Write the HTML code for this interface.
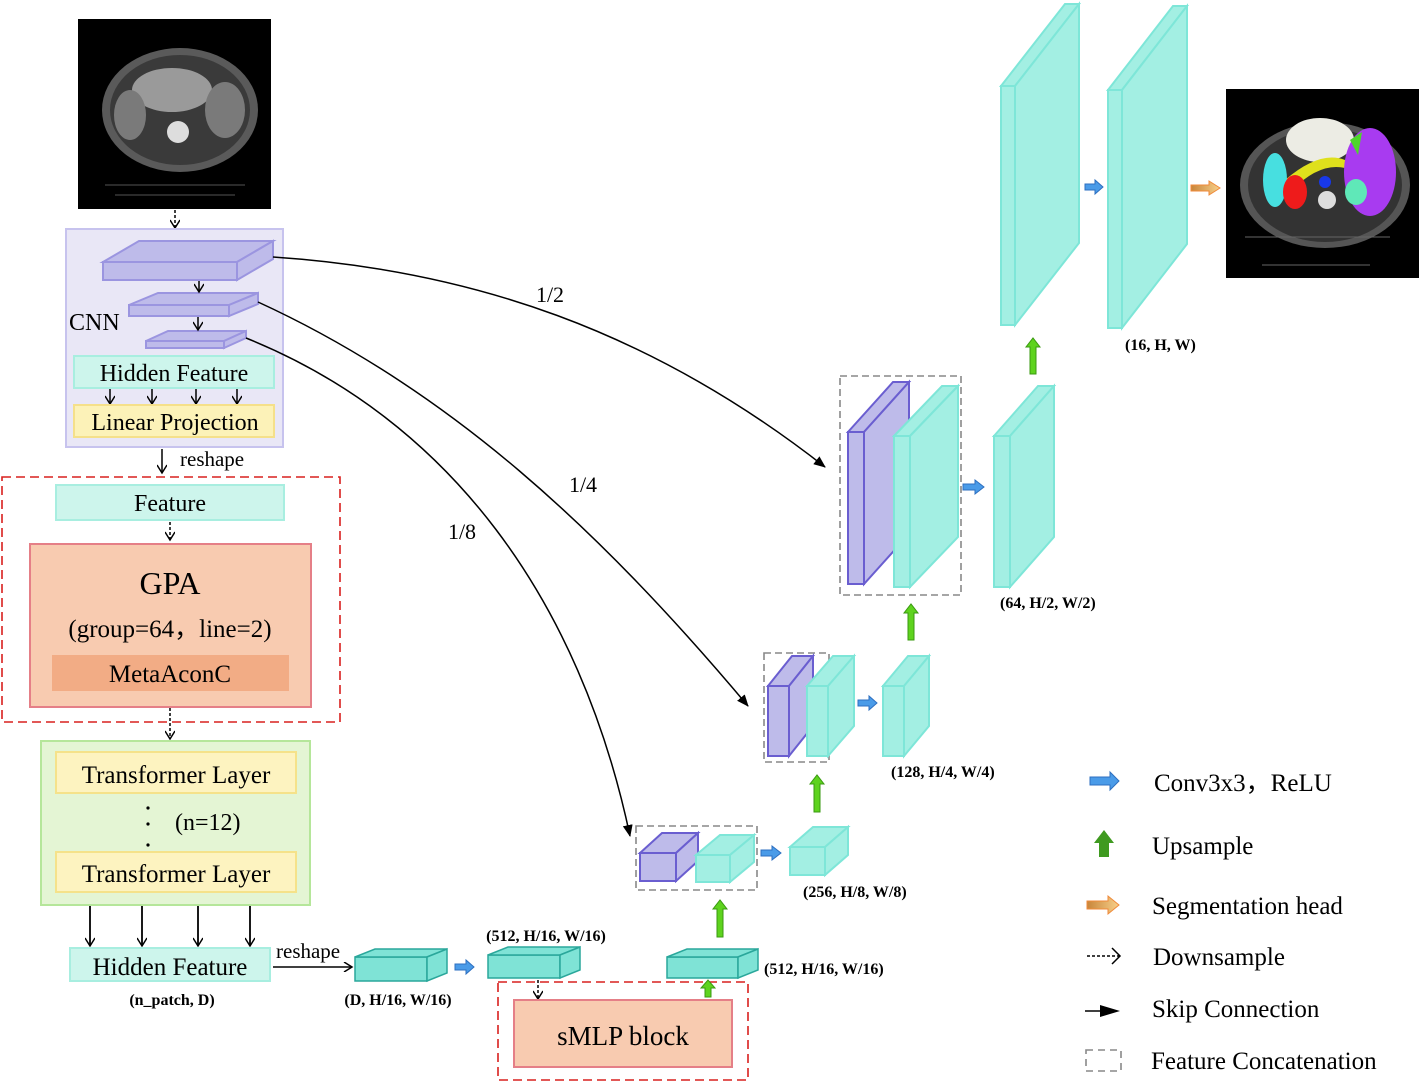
<!DOCTYPE html>
<html><head><meta charset="utf-8"><style>
html,body{margin:0;padding:0;background:#fff}
svg{display:block}
text{font-family:"Liberation Serif",serif;fill:#000}
.b{font-weight:bold;font-size:16px}
</style></head><body>
<svg width="1419" height="1082" viewBox="0 0 1419 1082" xmlns="http://www.w3.org/2000/svg">
<defs>
<marker id="ah" markerWidth="12" markerHeight="10" refX="11" refY="5" orient="auto" markerUnits="userSpaceOnUse"><path d="M0,0 L12,5 L0,10 Z" fill="#000"/></marker>
<marker id="oa" markerWidth="14" markerHeight="10" refX="9" refY="5" orient="auto" markerUnits="userSpaceOnUse"><path d="M1,0 L9,5 L1,10" stroke="#000" stroke-width="1.5" fill="none"/></marker>
<linearGradient id="og" x1="0" x2="1"><stop offset="0" stop-color="#c8853a"/><stop offset="1" stop-color="#f7d08a"/></linearGradient>
</defs>

<!-- CT input -->
<rect x="78" y="19" width="193" height="190" fill="#000"/>
<ellipse cx="180" cy="110" rx="78" ry="62" fill="#5a5a5a"/>
<ellipse cx="180" cy="110" rx="70" ry="55" fill="#3a3a3a"/>
<ellipse cx="172" cy="90" rx="40" ry="22" fill="#9a9a9a"/>
<ellipse cx="130" cy="115" rx="16" ry="25" fill="#7a7a7a"/>
<ellipse cx="225" cy="110" rx="20" ry="28" fill="#7a7a7a"/>
<circle cx="178" cy="132" r="11" fill="#ddd"/>
<path d="M105,185 L245,185 M115,195 L235,195" stroke="#555"/>

<!-- CT output -->
<rect x="1226" y="89" width="193" height="189" fill="#000"/>
<ellipse cx="1325" cy="185" rx="85" ry="63" fill="#555"/>
<ellipse cx="1325" cy="185" rx="77" ry="57" fill="#333"/>
<ellipse cx="1320" cy="140" rx="34" ry="22" fill="#ecece4"/>
<path d="M1285,180 Q1320,150 1345,160 L1345,168 Q1320,162 1292,190 Z" fill="#dfe01c"/>
<ellipse cx="1275" cy="180" rx="12" ry="27" fill="#47dfe0"/>
<ellipse cx="1295" cy="192" rx="12" ry="17" fill="#ee1b1b"/>
<ellipse cx="1370" cy="172" rx="26" ry="44" fill="#a83bf0"/>
<ellipse cx="1356" cy="192" rx="11" ry="13" fill="#5fe8b8"/>
<circle cx="1325" cy="182" r="6" fill="#1838e8"/>
<circle cx="1327" cy="200" r="9" fill="#ddd"/>
<path d="M1350,140 L1362,132 L1358,155 Z" fill="#4ed62a"/>
<path d="M1245,237 L1390,237 M1262,265 L1370,265" stroke="#666"/>

<!-- dotted arrow into CNN -->
<line x1="175" y1="210" x2="175" y2="228" stroke="#000" stroke-width="1.5" stroke-dasharray="3,2" marker-end="url(#oa)"/>

<!-- CNN box -->
<rect x="66" y="229" width="217" height="218" fill="#e9e7f6" stroke="#c7c3ee" stroke-width="2"/>
<g fill="#bebbea" stroke="#9b95e0" stroke-width="2">
<rect x="103" y="262" width="134" height="18"/><polygon points="103,262 139,241 273,241 237,262"/><polygon points="237,262 273,241 273,259 237,280"/>
<rect x="129" y="305" width="100" height="11"/><polygon points="129,305 158,293 258,293 229,305"/><polygon points="229,305 258,293 258,304 229,316"/>
<rect x="146" y="341" width="78" height="7"/><polygon points="146,341 168,331 246,331 224,341"/><polygon points="224,341 246,331 246,338 224,348"/>
</g>
<line x1="199" y1="281" x2="199" y2="292" stroke="#000" stroke-width="1.5" marker-end="url(#oa)"/>
<line x1="198" y1="317" x2="198" y2="330" stroke="#000" stroke-width="1.5" marker-end="url(#oa)"/>
<text x="69" y="330" font-size="24">CNN</text>
<rect x="74" y="356" width="200" height="32" fill="#cdf5ec" stroke="#a8eee0" stroke-width="2"/>
<text x="174" y="381" font-size="24" text-anchor="middle">Hidden Feature</text>
<g stroke="#000" stroke-width="1.5">
<line x1="110" y1="389" x2="110" y2="404" marker-end="url(#oa)"/><line x1="152" y1="389" x2="152" y2="404" marker-end="url(#oa)"/><line x1="196" y1="389" x2="196" y2="404" marker-end="url(#oa)"/><line x1="237" y1="389" x2="237" y2="404" marker-end="url(#oa)"/>
</g>
<rect x="74" y="405" width="200" height="32" fill="#fcf2b8" stroke="#f5e08a" stroke-width="2"/>
<text x="175" y="430" font-size="24" text-anchor="middle">Linear Projection</text>
<line x1="162" y1="449" x2="162" y2="473" stroke="#000" stroke-width="1.5" marker-end="url(#oa)"/>
<text x="180" y="466" font-size="21">reshape</text>

<!-- GPA region -->
<rect x="2" y="477" width="338" height="245" fill="none" stroke="#d9201e" stroke-width="1.6" stroke-dasharray="9,5"/>
<rect x="56" y="485" width="228" height="35" fill="#cdf5ec" stroke="#a8eee0" stroke-width="2"/>
<text x="170" y="511" font-size="24" text-anchor="middle">Feature</text>
<line x1="170" y1="522" x2="170" y2="540" stroke="#000" stroke-width="1.5" stroke-dasharray="3,2" marker-end="url(#oa)"/>
<rect x="30" y="544" width="281" height="163" fill="#f8cbb0" stroke="#e57f87" stroke-width="2"/>
<text x="170" y="594" font-size="32" text-anchor="middle">GPA</text>
<text x="170" y="637" font-size="25" text-anchor="middle">(group=64，line=2)</text>
<rect x="52" y="655" width="237" height="36" fill="#f2ac85"/>
<text x="170" y="682" font-size="25" text-anchor="middle">MetaAconC</text>
<line x1="170" y1="708" x2="170" y2="739" stroke="#000" stroke-width="1.5" stroke-dasharray="3,2" marker-end="url(#oa)"/>

<!-- Transformer -->
<rect x="41" y="741" width="269" height="164" fill="#e4f5d4" stroke="#b5e69a" stroke-width="2"/>
<rect x="56" y="752" width="240" height="41" fill="#fdf3c0" stroke="#f5e28a" stroke-width="2"/>
<text x="176" y="783" font-size="25" text-anchor="middle">Transformer Layer</text>
<circle cx="148" cy="808" r="1.6" fill="#000"/><circle cx="148" cy="824" r="1.6" fill="#000"/><circle cx="148" cy="845" r="1.6" fill="#000"/>
<text x="175" y="830" font-size="24">(n=12)</text>
<rect x="56" y="852" width="240" height="40" fill="#fdf3c0" stroke="#f5e28a" stroke-width="2"/>
<text x="176" y="882" font-size="25" text-anchor="middle">Transformer Layer</text>
<g stroke="#000" stroke-width="1.8">
<line x1="90" y1="906" x2="90" y2="946" marker-end="url(#oa)"/><line x1="142" y1="906" x2="142" y2="946" marker-end="url(#oa)"/><line x1="198" y1="906" x2="198" y2="946" marker-end="url(#oa)"/><line x1="250" y1="906" x2="250" y2="946" marker-end="url(#oa)"/>
</g>
<rect x="70" y="948" width="200" height="33" fill="#cdf5ec" stroke="#a8eee0" stroke-width="2"/>
<text x="170" y="975" font-size="25" text-anchor="middle">Hidden Feature</text>
<text x="172" y="1005" class="b" text-anchor="middle" font-size="15">(n_patch, D)</text>
<line x1="273" y1="967" x2="352" y2="967" stroke="#000" stroke-width="1.5" marker-end="url(#oa)"/>
<text x="276" y="958" font-size="21">reshape</text>

<!-- bottom cubes -->
<g fill="#7fe3d6" stroke="#2aa79b" stroke-width="1.5">
<rect x="355" y="957" width="72" height="24"/><polygon points="355,957 375,949 447,949 427,957"/><polygon points="427,957 447,949 447,973 427,981"/>
<rect x="488" y="955" width="72" height="23"/><polygon points="488,955 508,947 580,947 560,955"/><polygon points="560,955 580,947 580,970 560,978"/>
<rect x="667" y="957" width="71" height="21"/><polygon points="667,957 687,949 758,949 738,957"/><polygon points="738,957 758,949 758,970 738,978"/>
</g>
<text x="398" y="1005" class="b" text-anchor="middle">(D, H/16, W/16)</text>
<text x="546" y="941" class="b" text-anchor="middle">(512, H/16, W/16)</text>
<text x="764" y="974" class="b">(512, H/16, W/16)</text>
<line x1="538" y1="980" x2="538" y2="999" stroke="#000" stroke-width="1.5" stroke-dasharray="3,2" marker-end="url(#oa)"/>
<rect x="498" y="982" width="250" height="98" fill="none" stroke="#d9201e" stroke-width="1.6" stroke-dasharray="9,5"/>
<rect x="514" y="1000" width="218" height="67" fill="#f8cbb0" stroke="#e57f87" stroke-width="2"/>
<text x="623" y="1045" font-size="27" text-anchor="middle">sMLP block</text>

<!-- blue arrows -->
<g fill="#4a9be8" stroke="#2d6fc0" stroke-width="1">
<polygon points="455,964 466,964 466,960 474,967 466,974 466,970 455,970"/>
<polygon points="761,850 772,850 772,846 781,853 772,860 772,856 761,856"/>
<polygon points="858,700 869,700 869,696 877,703 869,710 869,706 858,706"/>
<polygon points="963,484 975,484 975,480 984,487 975,494 975,490 963,490"/>
<polygon points="1085,184 1095,184 1095,180 1103,187 1095,194 1095,190 1085,190"/>
<polygon points="1090,777 1110,777 1110,772 1119,781 1110,790 1110,785 1090,785"/>
</g>
<!-- green up arrows -->
<g fill="#5ed31e" stroke="#3a9a10" stroke-width="1">
<polygon points="705,997 705,988 701,988 708,980 715,988 711,988 711,997"/>
<polygon points="717,937 717,909 713,909 720,900 727,909 723,909 723,937"/>
<polygon points="814,812 814,784 810,784 817,775 824,784 820,784 820,812"/>
<polygon points="908,640 908,613 904,613 911,604 918,613 914,613 914,640"/>
<polygon points="1030,374 1030,347 1026,347 1033,338 1040,347 1036,347 1036,374"/>
</g>
<polygon points="1099,857 1099,843 1094,843 1104,830 1114,843 1109,843 1109,857" fill="#3f9a20"/>
<!-- orange -->
<polygon points="1191,185 1209,185 1209,181 1220,188 1209,195 1209,191 1191,191" fill="url(#og)" stroke="#f08a3a"/>
<polygon points="1087,901 1108,901 1108,896 1119,905 1108,914 1108,909 1087,909" fill="url(#og)" stroke="#f08a3a"/>

<!-- Level 1/8 -->
<rect x="636" y="826" width="121" height="64" fill="none" stroke="#888" stroke-width="1.6" stroke-dasharray="7,4"/>
<g fill="#bebbea" stroke="#6a5ed0" stroke-width="2">
<rect x="640" y="853" width="36" height="28"/><polygon points="640,853 662,833 698,833 676,853"/><polygon points="676,853 698,833 698,861 676,881"/>
</g>
<g fill="#a3efe3" stroke="#7ee6d8" stroke-width="2">
<rect x="696" y="855" width="34" height="27"/><polygon points="696,855 720,835 754,835 730,855"/><polygon points="730,855 754,835 754,862 730,882"/>
<rect x="790" y="847" width="35" height="28"/><polygon points="790,847 813,827 848,827 825,847"/><polygon points="825,847 848,827 848,855 825,875"/>
</g>
<text x="803" y="897" class="b">(256, H/8, W/8)</text>

<!-- Level 1/4 -->
<rect x="764" y="653" width="65" height="109" fill="none" stroke="#888" stroke-width="1.6" stroke-dasharray="7,4"/>
<g fill="#bebbea" stroke="#6a5ed0" stroke-width="2">
<rect x="768" y="686" width="21" height="70"/><polygon points="768,686 792,656 813,656 789,686"/><polygon points="789,686 813,656 813,726 789,756"/>
</g>
<g fill="#a3efe3" stroke="#7ee6d8" stroke-width="2">
<rect x="807" y="686" width="21" height="70"/><polygon points="807,686 833,656 854,656 828,686"/><polygon points="828,686 854,656 854,726 828,756"/>
<rect x="883" y="686" width="21" height="70"/><polygon points="883,686 908,656 929,656 904,686"/><polygon points="904,686 929,656 929,726 904,756"/>
</g>
<text x="891" y="777" class="b">(128, H/4, W/4)</text>

<!-- Level 1/2 -->
<rect x="840" y="376" width="121" height="219" fill="none" stroke="#888" stroke-width="1.6" stroke-dasharray="7,4"/>
<g fill="#bebbea" stroke="#6a5ed0" stroke-width="2">
<rect x="848" y="432" width="16" height="152"/><polygon points="848,432 893,382 909,382 864,432"/><polygon points="864,432 909,382 909,534 864,584"/>
</g>
<g fill="#a3efe3" stroke="#7ee6d8" stroke-width="2">
<rect x="894" y="436" width="16" height="151"/><polygon points="894,436 942,386 958,386 910,436"/><polygon points="910,436 958,386 958,537 910,587"/>
<rect x="994" y="436" width="16" height="151"/><polygon points="994,436 1038,386 1054,386 1010,436"/><polygon points="1010,436 1054,386 1054,537 1010,587"/>
<rect x="1001" y="86" width="14" height="239"/><polygon points="1001,86 1065,4 1079,4 1015,86"/><polygon points="1015,86 1079,4 1079,243 1015,325"/>
<rect x="1108" y="90" width="14" height="238"/><polygon points="1108,90 1173,6 1187,6 1122,90"/><polygon points="1122,90 1187,6 1187,244 1122,328"/>
</g>
<text x="1000" y="608" class="b">(64, H/2, W/2)</text>
<text x="1125" y="350" class="b">(16, H, W)</text>

<!-- skip curves -->
<g fill="none" stroke="#000" stroke-width="1.5">
<path d="M273,257 C470,270 650,330 825,467" marker-end="url(#ah)"/>
<path d="M258,302 C450,390 600,530 748,706" marker-end="url(#ah)"/>
<path d="M246,338 C450,420 580,600 630,836" marker-end="url(#ah)"/>
</g>
<text x="550" y="302" font-size="22" text-anchor="middle">1/2</text>
<text x="583" y="492" font-size="22" text-anchor="middle">1/4</text>
<text x="462" y="539" font-size="22" text-anchor="middle">1/8</text>

<!-- Legend -->
<text x="1154" y="791" font-size="25">Conv3x3，ReLU</text>
<text x="1152" y="854" font-size="25">Upsample</text>
<text x="1152" y="914" font-size="25">Segmentation head</text>
<line x1="1087" y1="956" x2="1119" y2="956" stroke="#000" stroke-width="1.5" stroke-dasharray="3,2"/>
<path d="M1112,948 L1120,956 L1112,964" fill="none" stroke="#000" stroke-width="1.5"/>
<text x="1153" y="965" font-size="25">Downsample</text>
<line x1="1085" y1="1011" x2="1105" y2="1011" stroke="#000" stroke-width="1.5"/>
<polygon points="1100,1005 1120,1011 1100,1017" fill="#000"/>
<text x="1152" y="1017" font-size="25">Skip Connection</text>
<rect x="1086" y="1050" width="35" height="21" fill="none" stroke="#888" stroke-width="1.6" stroke-dasharray="7,5"/>
<text x="1151" y="1069" font-size="25">Feature Concatenation</text>
</svg>
</body></html>
